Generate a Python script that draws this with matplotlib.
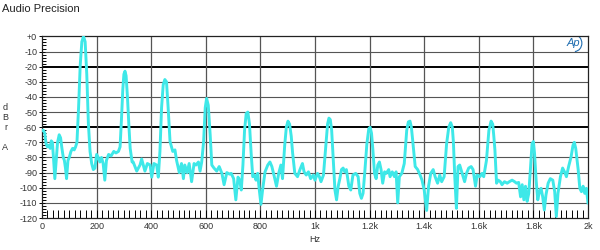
import matplotlib
matplotlib.use("Agg")
import matplotlib.pyplot as plt
from matplotlib.ticker import MultipleLocator
from matplotlib.patches import Arc

plt.rcParams['font.family'] = ['Liberation Sans', 'DejaVu Sans']

# spectrum trace (Hz, dBr A)
freq = [0, 5, 10, 15, 20, 25, 30, 34, 38, 42, 47, 52, 57, 63, 68, 73, 78, 82, 86, 90,
        95, 100, 106, 112, 118, 123, 128, 134, 140, 146, 152, 158, 164, 170, 176, 182,
        188, 194, 200, 206, 212, 218, 224, 230, 236, 244, 253, 263, 271, 280, 286, 291,
        296, 300, 304, 308, 313, 318, 323, 330, 334, 347, 359, 365, 377, 386, 396, 402,
        410, 420, 426, 432, 438, 444, 450, 456, 462, 469, 479, 487, 493, 503, 511, 518,
        523, 532, 539, 548, 557, 564, 573, 579, 585, 592, 598, 603, 609, 616, 622, 630,
        640, 649, 659, 667, 677, 687, 693, 702, 710, 718, 724, 730, 736, 742, 748, 754,
        760, 766, 772, 778, 784, 790, 796, 802, 808, 817, 827, 835, 842, 851, 859, 867,
        875, 881, 889, 895, 901, 907, 913, 918, 926, 936, 945, 954, 960, 968, 976, 984,
        994, 1000, 1009, 1016, 1022, 1031, 1040, 1046, 1051, 1056, 1061, 1067, 1073, 1079,
        1085, 1091, 1097, 1103, 1109, 1115, 1124, 1131, 1139, 1149, 1158, 1164, 1170, 1176,
        1182, 1190, 1197, 1202, 1207, 1212, 1218, 1224, 1230, 1236, 1242, 1248, 1255, 1261,
        1270, 1275, 1283, 1291, 1297, 1303, 1309, 1318, 1327, 1336, 1342, 1348, 1353, 1358,
        1367, 1376, 1385, 1392, 1400, 1409, 1416, 1424, 1433, 1440, 1449, 1457, 1464, 1473,
        1482, 1490, 1497, 1503, 1507, 1512, 1518, 1524, 1530, 1539, 1548, 1555, 1563, 1572,
        1579, 1588, 1594, 1604, 1612, 1618, 1628, 1637, 1645, 1651, 1655, 1659, 1665, 1671,
        1679, 1685, 1694, 1704, 1712, 1722, 1731, 1738, 1746, 1753, 1759, 1765, 1771, 1777,
        1783, 1789, 1795, 1800, 1804, 1810, 1816, 1822, 1828, 1834, 1840, 1846, 1854, 1862,
        1871, 1878, 1884, 1890, 1899, 1907, 1914, 1921, 1929, 1938, 1945, 1950, 1955, 1960,
        1964, 1970, 1976, 1982, 1988, 1994, 2000]
level = [-62, -62, -64, -71, -73, -72, -74, -69, -70, -80, -94, -82, -70, -65, -67, -74, -80, -82, -87, -94,
         -82, -80, -76, -74, -75, -73, -70, -47, -19, -3.5, 0, -3.5, -25, -58, -76, -84,
         -88, -87, -78, -80, -83, -80, -84, -95, -82, -78, -79, -76, -77, -76, -73, -55,
         -35, -25, -23, -26, -40, -58, -74, -83, -83, -89, -85, -81, -89, -84, -85, -93,
         -84, -85, -93, -76, -47, -32, -28.5, -30, -47, -69.5, -76, -75, -82, -90, -84, -94,
         -85, -90, -84, -96, -84, -85, -83, -89, -83, -69.5, -47, -41, -45.5, -65, -85, -87,
         -89, -86, -90.5, -98, -90, -91, -90.5, -94, -108, -93, -95, -101.5, -85, -62, -51, -50,
         -58, -77, -92.7, -91.6, -95, -90.5, -101.5, -111, -101.5, -89.5, -85, -83, -86, -92.7, -99, -90.5,
         -85, -94, -72, -60, -56, -58, -66, -77, -90.5, -92.7, -88, -84, -89.5, -91.6, -89.5, -94,
         -91.6, -95, -90.5, -92.7, -96, -91.6, -71, -58, -54, -55, -62, -82, -101.5, -108,
         -99, -94, -88, -87, -89.5, -88, -99, -101.5, -91.6, -90.5, -92.7, -103.7, -107, -103.7,
         -90.5, -71, -61, -60, -64, -75, -90.5, -94, -85, -83, -88, -97, -89.5, -90.5,
         -88, -92.7, -89.5, -92.7, -89.5, -110, -92.7, -90.5, -84, -62, -56.5, -56, -60, -69,
         -86, -88, -91.6, -95, -101.5, -115, -99, -90.5, -88, -92.7, -97, -91.6, -96, -92.7,
         -71, -60, -57, -60, -70, -92.7, -113.6, -86, -85, -90.5, -96, -90.5, -87, -86,
         -88, -99, -91.6, -92.7, -90.5, -92.7, -82, -62, -56, -58, -66, -75, -97, -95,
         -96, -98, -96, -97, -96, -95, -96, -97, -96.5, -106, -98, -108, -99, -109,
         -103.7, -88, -71, -69.5, -77, -95, -108, -102.6, -100.4, -106, -114.7, -104.8, -97, -94,
         -95, -102.6, -119, -103.7, -92.7, -87, -89.5, -92.7, -86, -79.6, -72, -70, -74, -82,
         -88, -100.4, -102.6, -99, -103.7, -100.4, -110]

x_ticks = [0, 200, 400, 600, 800, 1000, 1200, 1400, 1600, 1800, 2000]
x_labels = ['0', '200', '400', '600', '800', '1k', '1.2k', '1.4k', '1.6k', '1.8k', '2k']
y_ticks = [0, -10, -20, -30, -40, -50, -60, -70, -80, -90, -100, -110, -120]
y_labels = ['+0'] + [str(v) for v in y_ticks[1:]]
heavy_lines = [-20, -60]

fig = plt.figure(figsize=(6, 2.5), dpi=100)
ax = fig.add_axes([0.07, 0.128, 0.91, 0.7264])

ax.set_xlim(0, 2000)
ax.set_ylim(-120, 0)

for v in y_ticks[1:-1]:
    lw = 1.4 if v in heavy_lines else 0.8
    col = 'black' if v in heavy_lines else '#555555'
    ax.axhline(v, color=col, lw=lw, zorder=1)
for v in x_ticks[1:-1]:
    ax.axvline(v, color='#555555', lw=0.9, zorder=1)

ax.plot(freq, level, color='#3ee8e8', lw=2.1, solid_joinstyle='round', zorder=3)

ax.set_xticks(x_ticks)
ax.set_xticklabels(x_labels)
ax.set_yticks(y_ticks)
ax.set_yticklabels(y_labels)
ax.xaxis.set_minor_locator(MultipleLocator(20))
ax.yaxis.set_minor_locator(MultipleLocator(2))
ax.tick_params(axis='x', which='both', direction='in', length=6, width=0.7,
               labelsize=6.5, labelcolor='#333333', pad=3, top=False)
ax.tick_params(axis='y', which='major', direction='inout', length=5, width=0.7,
               labelsize=6.5, labelcolor='#333333', pad=1, right=False)
ax.tick_params(axis='y', which='minor', direction='in', length=3, width=0.7, right=False)

for s in ax.spines.values():
    s.set_color('#222222')
    s.set_linewidth(0.9)

fig.text(0.004, 0.962, 'Audio Precision', fontsize=8, color='#222222', va='center')
fig.text(0.525, 0.04, 'Hz', fontsize=6.5, color='#333333', ha='center', va='center')
for i, ch in enumerate(['d', 'B', 'r', '', 'A']):
    fig.text(0.009, 0.572 - i * 0.04, ch, fontsize=6.5, color='#333333', ha='center', va='center')

ax.text(1945, -4.5, 'Ap', fontsize=8, style='italic', color='#1f6db0', ha='center', va='center')
ax.add_patch(Arc((1950, -4.5), 55, 11, theta1=-70, theta2=70, color='#1f6db0', lw=0.8))

fig.savefig('out.png', dpi=100)
